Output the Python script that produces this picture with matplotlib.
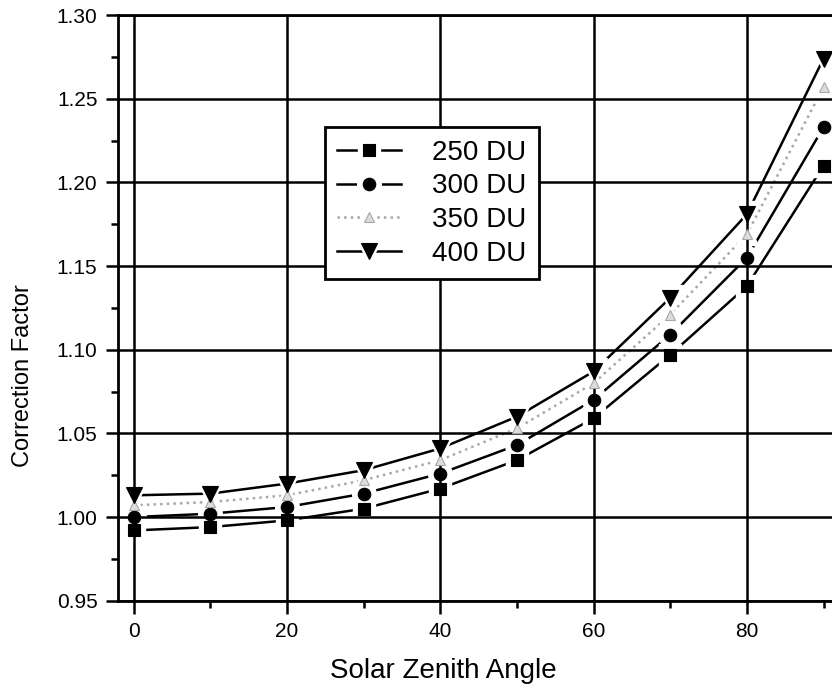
import numpy as np
import matplotlib
matplotlib.use("Agg")
import matplotlib.pyplot as plt
from matplotlib.ticker import MultipleLocator, FormatStrFormatter

plt.rcParams['font.family'] = ['Liberation Sans', 'DejaVu Sans']

# solar zenith angle (deg)
angles = [0, 10, 20, 30, 40, 50, 60, 70, 80, 90]

# correction factor per total ozone column
cf_250 = [0.992, 0.994, 0.998, 1.005, 1.017, 1.034, 1.059, 1.097, 1.138, 1.210]
cf_300 = [1.000, 1.002, 1.006, 1.014, 1.026, 1.043, 1.070, 1.109, 1.155, 1.233]
cf_350 = [1.007, 1.009, 1.013, 1.022, 1.034, 1.053, 1.080, 1.121, 1.169, 1.257]
cf_400 = [1.013, 1.014, 1.020, 1.028, 1.041, 1.060, 1.087, 1.131, 1.181, 1.274]

labels = ['250 DU', '300 DU', '350 DU', '400 DU']

fig = plt.figure(figsize=(8.32, 6.92), dpi=100)
ax = fig.add_axes([0.1422, 0.1319, 1.0 - 0.1422, 0.9783 - 0.1319])

# line style, marker, color, marker face, marker size
styles = [
    ('-', 's', 'black', 'black', 8.5),
    ('-', 'o', 'black', 'black', 9),
    (':', '^', '#a8a8a8', '#dcdcdc', 7.5),
    ('-', 'v', 'black', 'black', 11),
]

handles = []
for ys, lab, (ls, mk, col, mfc, ms) in zip([cf_250, cf_300, cf_350, cf_400], labels, styles):
    ln, = ax.plot(angles, ys, linestyle=ls, color=col, lw=1.8, zorder=2)
    # white halo so the line stops short of each marker
    halo, = ax.plot(angles, ys, linestyle='none', marker=mk, ms=ms + 8,
                    mfc='white', mec='white', zorder=2.2)
    pts, = ax.plot(angles, ys, linestyle='none', marker=mk, ms=ms,
                   mfc=mfc, mec=col, mew=0.8, zorder=3)
    handles.append((ln, halo, pts))

ax.set_xlim(-2, 91.1)
ax.set_ylim(0.95, 1.30)
ax.xaxis.set_major_locator(MultipleLocator(20))
ax.xaxis.set_minor_locator(MultipleLocator(10))
ax.yaxis.set_major_locator(MultipleLocator(0.05))
ax.yaxis.set_minor_locator(MultipleLocator(0.025))
ax.yaxis.set_major_formatter(FormatStrFormatter('%.2f'))

ax.set_axisbelow(False)
ax.grid(True, which='major', color='black', lw=1.8)
for sp in ax.spines.values():
    sp.set_linewidth(2)
ax.spines['right'].set_visible(False)

ax.tick_params(which='major', direction='out', length=9, width=1.8, labelsize=15, pad=6)
ax.tick_params(which='minor', direction='out', length=5, width=1.8)

ax.set_xlabel('Solar Zenith Angle', fontsize=20)
ax.set_ylabel('Correction Factor', fontsize=17)
ax.xaxis.set_label_coords(0.455, -0.097)
ax.yaxis.set_label_coords(-0.118, 0.384)

leg = ax.legend(handles, labels, loc='upper left', bbox_to_anchor=(0.2896, 0.8088),
                borderaxespad=0, fontsize=20, frameon=True, fancybox=False,
                edgecolor='black', framealpha=1, handlelength=2.3, handletextpad=1.1,
                labelspacing=0.28, borderpad=0.45)
leg.get_frame().set_linewidth(2)
leg.set_zorder(5)

fig.savefig('out.png', dpi=100)
